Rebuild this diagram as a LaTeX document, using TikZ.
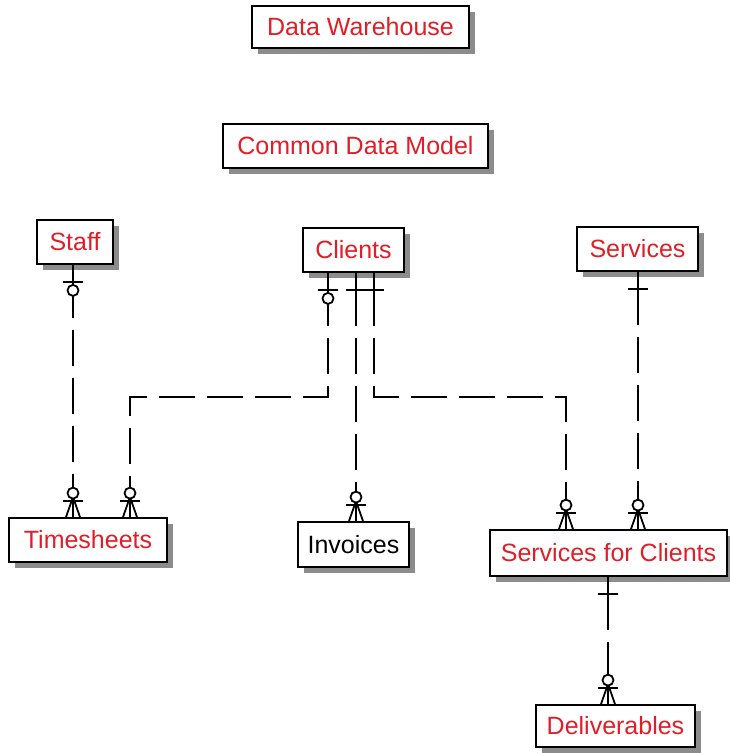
\documentclass[tikz,border=0pt]{standalone}
\usepackage{fontspec}
\setmainfont{Liberation Sans}
\usetikzlibrary{shadows,calc}
\definecolor{ered}{RGB}{225,30,40}
\begin{document}
\begin{tikzpicture}[x=1pt,y=-1pt,
  ent/.style={draw=black,line width=1.8pt,fill=white,inner sep=0pt,text=ered,
    font=\fontsize{25}{29}\selectfont,
    general shadow={fill=black!45,shadow xshift=6pt,shadow yshift=-6pt}},
  conn/.style={line width=1.8pt,dash pattern=on 36pt off 12pt},
  sym/.style={line width=1.8pt},
  cfmany/.pic={\draw[sym] (0,-30) -- (0,0);
    \draw[sym] (-10,-16) -- (10,-16);
    \draw[sym] (-7,0) -- (0,-20) -- (7,0);
    \draw[sym,fill=white] (0,-24) circle (5.5pt);},
  cfzeroone/.pic={\draw[sym] (0,0) -- (0,32);
    \draw[sym] (-10,17) -- (10,17);
    \draw[sym,fill=white] (0,25.5) circle (5.5pt);},
  cfone/.pic={\draw[sym] (0,0) -- (0,17);
    \draw[sym] (-10,17) -- (10,17);}]
\useasboundingbox (0,0) rectangle (730,753);
\fill[white] (0,0) rectangle (730,753);

\node[ent,minimum width=217pt,minimum height=42pt] (dw) at (360.5,27) {Data Warehouse};
\node[ent,minimum width=265pt,minimum height=44pt] (cdm) at (355.5,146) {Common Data Model};
\node[ent,minimum width=76pt,minimum height=44pt] (staff) at (75,242) {Staff};
\node[ent,minimum width=101pt,minimum height=44pt] (clients) at (353.5,250) {Clients};
\node[ent,minimum width=121pt,minimum height=44pt] (serv) at (637.5,249) {Services};
\node[ent,minimum width=158pt,minimum height=44pt] (ts) at (88,540) {Timesheets};
\node[ent,minimum width=111pt,minimum height=45pt,text=black] (inv) at (353.5,544.5) {Invoices};
\node[ent,minimum width=237pt,minimum height=46pt] (sfc) at (608.5,553) {Services for Clients};
\node[ent,minimum width=159pt,minimum height=42pt] (del) at (615.5,726) {Deliverables};

\path (staff.south -| 73,0) coordinate (s1);
\path (clients.south -| 328,0) coordinate (c1);
\path (clients.south -| 356,0) coordinate (c2);
\path (clients.south -| 374,0) coordinate (c3);
\path (serv.south -| 638,0) coordinate (v1);
\path (sfc.south -| 608,0) coordinate (d1);

\draw[conn] ([yshift=-17pt]s1) -- (s1 |- ts.north);
\draw[conn] ([yshift=-17pt]c1) -- (c1 |- 0,397) -| (ts.north -| 130,0);
\draw[conn] ([yshift=-17pt]c2) -- (c2 |- inv.north);
\draw[conn] ([yshift=-17pt]c3) -- (c3 |- 0,397) -| (sfc.north -| 566,0);
\draw[conn] ([yshift=-17pt]v1) -- (v1 |- sfc.north);
\draw[conn] ([yshift=-17pt]d1) -- (d1 |- del.north);

\pic at (s1) {cfzeroone};
\pic at (c1) {cfzeroone};
\pic at (c2) {cfone};
\pic at (c3) {cfone};
\pic at (v1) {cfone};
\pic at (d1) {cfone};
\pic at (s1 |- ts.north) {cfmany};
\pic at (ts.north -| 130,0) {cfmany};
\pic at (c2 |- inv.north) {cfmany};
\pic at (sfc.north -| 566,0) {cfmany};
\pic at (v1 |- sfc.north) {cfmany};
\pic at (d1 |- del.north) {cfmany};
\end{tikzpicture}
\end{document}
